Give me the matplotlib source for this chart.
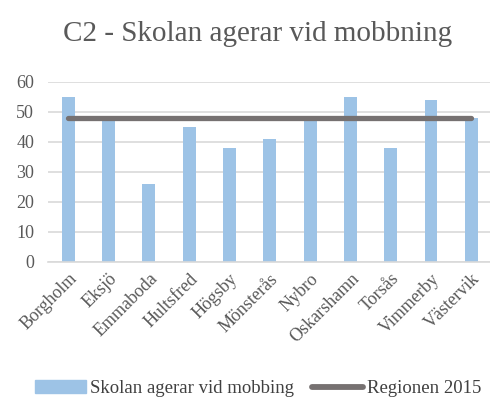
import matplotlib
matplotlib.use("Agg")
import matplotlib.pyplot as plt
from matplotlib.lines import Line2D
from matplotlib.patches import Patch

plt.rcParams['font.family'] = ['Liberation Serif', 'DejaVu Serif']

kommuner = ['Borgholm', 'Eksjö', 'Emmaboda', 'Hultsfred', 'Högsby', 'Mönsterås',
            'Nybro', 'Oskarshamn', 'Torsås', 'Vimmerby', 'Västervik']
skolan = [55, 48, 26, 45, 38, 41, 48, 55, 38, 54, 48]
regionen = [48] * len(kommuner)
yticks = [0, 10, 20, 30, 40, 50, 60]

bar_col = '#9DC3E6'
line_col = '#767171'
text_col = '#595959'

fig = plt.figure(figsize=(4.9, 4.03), dpi=100)
ax = fig.add_axes([0.098, 0.35, 0.905, 0.447])

x = list(range(len(kommuner)))
ax.bar(x, skolan, width=0.32, color=bar_col, zorder=2)
ax.plot(x, regionen, color=line_col, lw=3.8, solid_capstyle='round', zorder=3)

ax.set_xlim(-0.5, len(kommuner) - 0.5)
ax.set_ylim(0, 60)
ax.set_yticks(yticks)
ax.yaxis.grid(True, color='#d9d9d9', lw=1.2, zorder=0)
ax.set_axisbelow(True)
for s in ['top', 'right', 'left']:
    ax.spines[s].set_visible(False)
ax.spines['bottom'].set_color('#d9d9d9')
ax.spines['bottom'].set_linewidth(1.2)
ax.tick_params(length=0, labelsize=13, colors=text_col)
ax.tick_params(axis='x', pad=6)
ax.tick_params(axis='y', pad=10)
ax.set_xticks(x)
ax.set_xticklabels(kommuner, rotation=45, ha='right', rotation_mode='anchor')

fig.text(0.525, 0.915, 'C2 - Skolan agerar vid mobbning', ha='center', va='center',
         fontsize=21, color=text_col)

handles = [Patch(color=bar_col),
           Line2D([0], [0], color=line_col, lw=4.2, solid_capstyle='round')]
fig.legend(handles, ['Skolan agerar vid mobbing', 'Regionen 2015'], loc='center',
           bbox_to_anchor=(0.527, 0.035), ncol=2, frameon=False, fontsize=13.5,
           handlelength=2.7, handletextpad=0.2, columnspacing=1.0, labelcolor='#404040')

fig.savefig('out.png', dpi=100)
